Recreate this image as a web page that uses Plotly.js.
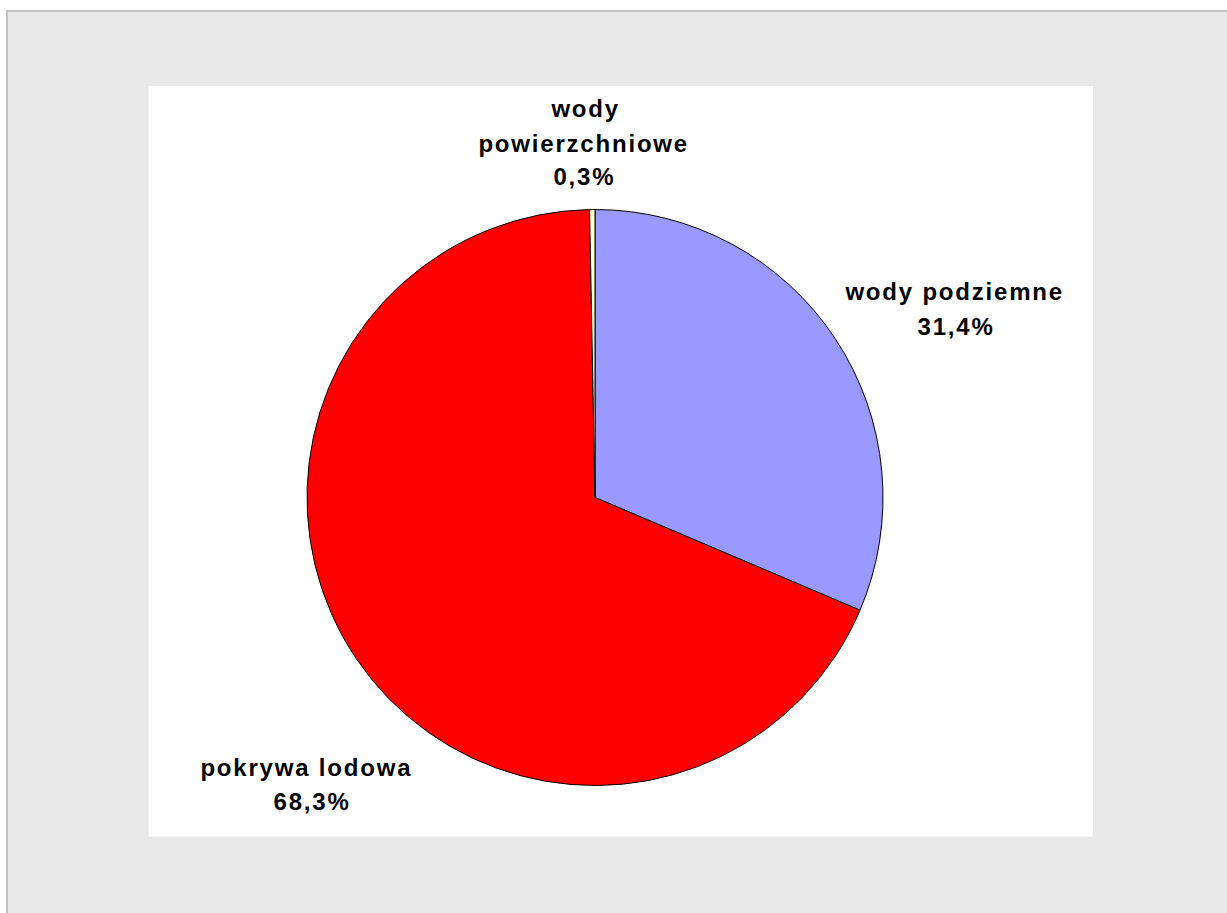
<!DOCTYPE html>
<html>
<head>
<meta charset="utf-8">
<script src="https://cdn.plot.ly/plotly-3.0.1.min.js"></script>
<style>
html,body{margin:0;padding:0;background:#ffffff;}
#chart{width:1227px;height:913px;}
#chart .annotation-text{letter-spacing:1.8px;}
</style>
</head>
<body>
<div id="chart"></div>
<script>
// Data
const categories = ["wody podziemne", "pokrywa lodowa", "wody powierzchniowe"];
const displayLabels = ["wody podziemne", "pokrywa lodowa", "wody<br>powierzchniowe"];
const values = [31.4, 68.3, 0.3];
const sliceColors = ["#9999ff", "#ff0000", "#ffffcc"];

const W = 1227, H = 913;
const px = x => x / W;
const py = y => 1 - y / H;

// label line centres (pixels), one entry per text line
const labelLinePos = [
  [{x: 954, y: 291.7}, {x: 956, y: 326.7}],
  [{x: 306, y: 767.7}, {x: 312, y: 801.7}],
  [{x: 585, y: 108.7}, {x: 583, y: 143.7}, {x: 584, y: 176.7}]
];

const fmt = v => v.toFixed(1).replace('.', ',') + '%';

const annotations = [];
categories.forEach((c, i) => {
  const lines = displayLabels[i].split('<br>').concat([fmt(values[i])]);
  lines.forEach((t, j) => {
    annotations.push({
      xref: 'paper', yref: 'paper',
      x: px(labelLinePos[i][j].x), y: py(labelLinePos[i][j].y),
      xanchor: 'center', yanchor: 'middle',
      text: t,
      showarrow: false,
      align: 'center',
      font: {family: 'Liberation Sans, Arial, sans-serif', size: 24, color: '#000000', weight: 'bold'}
    });
  });
});

const cx = 595, cy = 497.5, r = 288;

const trace = {
  type: 'pie',
  labels: categories,
  values: values,
  sort: false,
  direction: 'clockwise',
  rotation: 0,
  marker: {colors: sliceColors, line: {color: '#000000', width: 1}},
  textinfo: 'none',
  hoverinfo: 'skip',
  showlegend: false,
  domain: {x: [px(cx - r), px(cx + r)], y: [py(cy + r), py(cy - r)]}
};

const layout = {
  width: W, height: H,
  margin: {l: 0, r: 0, t: 0, b: 0, pad: 0},
  paper_bgcolor: '#ffffff',
  showlegend: false,
  shapes: [
    {type: 'rect', xref: 'paper', yref: 'paper', layer: 'below',
     x0: px(7), x1: px(W + 10), y0: py(H + 10), y1: py(11),
     fillcolor: '#e8e8e8', line: {color: '#c0c0c0', width: 2}},
    {type: 'rect', xref: 'paper', yref: 'paper', layer: 'below',
     x0: px(148.5), x1: px(1093), y0: py(836.5), y1: py(86),
     fillcolor: '#ffffff', line: {width: 0}}
  ],
  annotations: annotations
};

Plotly.newPlot('chart', [trace], layout, {staticPlot: true, displayModeBar: false});
</script>
</body>
</html>
